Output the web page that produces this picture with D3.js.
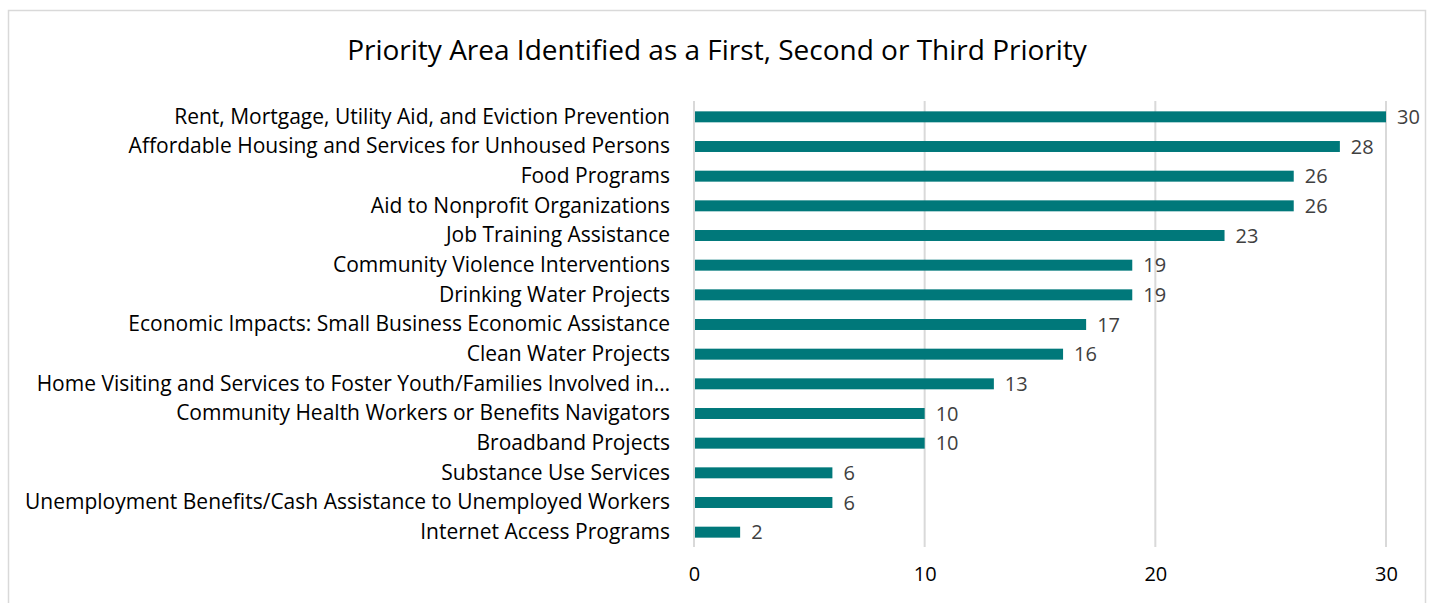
<!DOCTYPE html>
<html>
<head>
<meta charset="utf-8">
<script src="https://cdn.jsdelivr.net/npm/d3@7"></script>
<style>
  html, body { margin: 0; padding: 0; background: #fff; }
  svg { display: block; font-family: "Open Sans", sans-serif; }
</style>
</head>
<body>
<svg id="chart" width="1434" height="603"></svg>
<script>
const categories = [
  "Rent, Mortgage, Utility Aid, and Eviction Prevention",
  "Affordable Housing and Services for Unhoused Persons",
  "Food Programs",
  "Aid to Nonprofit Organizations",
  "Job Training Assistance",
  "Community Violence Interventions",
  "Drinking Water Projects",
  "Economic Impacts: Small Business Economic Assistance",
  "Clean Water Projects",
  "Home Visiting and Services to Foster Youth/Families Involved in…",
  "Community Health Workers or Benefits Navigators",
  "Broadband Projects",
  "Substance Use Services",
  "Unemployment Benefits/Cash Assistance to Unemployed Workers",
  "Internet Access Programs"
];
const values = [30, 28, 26, 26, 23, 19, 19, 17, 16, 13, 10, 10, 6, 6, 2];
const tickValues = [0, 10, 20, 30];
const title = "Priority Area Identified as a First, Second or Third Priority";

const svg = d3.select("#chart");

// chart border
svg.append("rect")
  .attr("x", 8.5).attr("y", 10.5)
  .attr("width", 1417).attr("height", 620)
  .attr("fill", "#fff").attr("stroke", "#d9d9d9").attr("stroke-width", 1.5);

const x = d3.scaleLinear().domain([0, 30]).range([694, 1386]);
const y = d3.scaleBand().domain(categories).range([102, 547]).paddingInner(0.63).paddingOuter(0.315);

// gridlines
svg.append("g").selectAll("line").data(tickValues).join("line")
  .attr("x1", d => x(d)).attr("x2", d => x(d))
  .attr("y1", 101).attr("y2", 547)
  .attr("stroke", "#d9d9d9").attr("stroke-width", 2);

// bars
svg.append("g").selectAll("rect").data(values).join("rect")
  .attr("x", x(0) + 1)
  .attr("y", (d, i) => y(categories[i]))
  .attr("width", d => x(d) - x(0) - 1)
  .attr("height", y.bandwidth())
  .attr("fill", "#00787a");

// data labels
svg.append("g").selectAll("text").data(values).join("text")
  .attr("x", d => x(d) + 11)
  .attr("y", (d, i) => y(categories[i]) + y.bandwidth() / 2)
  .attr("dy", "0.36em")
  .attr("font-size", 20)
  .attr("fill", "#404040")
  .text(d => d);

// category axis labels
const yAxis = d3.axisLeft(y).tickSize(0).tickPadding(0);
const gy = svg.append("g").attr("transform", "translate(670,0)").call(yAxis);
gy.select(".domain").remove();
gy.selectAll("text").attr("font-size", 21).attr("fill", "#000").attr("font-family", "Open Sans");

// value axis
const xAxis = d3.axisBottom(x).tickValues(tickValues).tickSize(0).tickPadding(0);
const gx = svg.append("g").attr("transform", "translate(0,567)").call(xAxis);
gx.select(".domain").remove();
gx.selectAll("text").attr("font-size", 20).attr("fill", "#000").attr("font-family", "Open Sans");

// title
svg.append("text")
  .attr("x", 717).attr("y", 50).attr("dy", "0.35em")
  .attr("text-anchor", "middle")
  .attr("font-size", 28)
  .attr("fill", "#000")
  .text(title);
</script>
</body>
</html>
